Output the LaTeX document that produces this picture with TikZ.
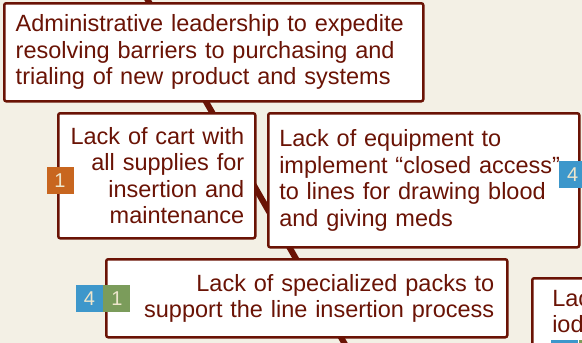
\documentclass[tikz,border=0pt]{standalone}
\usepackage{xcolor}
\usepackage{fontspec}
\setmainfont{Liberation Sans}
\usepackage{tikz}
\usetikzlibrary{positioning}
\definecolor{bone}{HTML}{6A1305}
\definecolor{paper}{HTML}{F3F0E5}
\definecolor{tagorange}{HTML}{C8661F}
\definecolor{tagblue}{HTML}{3D97CB}
\definecolor{taggreen}{HTML}{7B9C5B}
\definecolor{tagtext}{HTML}{EEE6CC}
\tikzstyle{cause} = [
    rectangle,
    draw=bone,
    line width=2.5pt,
    fill=white,
    text=bone,
    rounded corners=2pt,
    inner xsep=11pt,
    inner ysep=0pt,
    font=\fontsize{23.5}{26.5}\selectfont,
    anchor=north west
]
\tikzstyle{tag} = [
    rectangle,
    minimum size=27pt,
    inner sep=0pt,
    text=tagtext,
    font=\fontsize{20}{20}\selectfont
]
\tikzstyle{spine} = [bone, line width=6pt]

\begin{document}
\begin{tikzpicture}[x=1pt, y=-1pt, node distance=0pt]
    % Rahmen
    \clip (0,0) rectangle (582,343);
    \fill[paper] (0,0) rectangle (582,343);
    % Gräte
    \coordinate (spinetop) at (142,-10);
    \coordinate (spinebot) at (350,353);
    \draw [spine] (spinetop) -- (spinebot);
    % Kästen definieren
    \node (admin) [cause, minimum width=419pt, minimum height=98pt, text width=396pt, align=left] at (3,2)
        {Administrative leadership to expedite\\resolving barriers to purchasing and\\trialing of new product and systems};
    \node (cart) [cause, minimum width=197pt, minimum height=125pt, text width=175pt, align=right] at (57,112)
        {Lack of cart with\\all supplies for\\insertion and\\maintenance};
    \node (equip) [cause, minimum width=311pt, minimum height=134pt, text width=289pt, align=left] at (267,112)
        {Lack of equipment to\\implement “closed access”\\to lines for drawing blood\\and giving meds};
    \node (packs) [cause, minimum width=401pt, minimum height=78pt, inner xsep=13pt, text width=375pt, align=right] at (105,258)
        {Lack of specialized packs to\\support the line insertion process};
    \node (iodine) [cause, minimum width=120pt, inner xsep=20pt, inner ysep=12pt, text width=80pt, align=left] at (531,277)
        {Lac\\iod\\[20pt]};
    % Kennzeichen
    \node (cart1) [tag, fill=tagorange] at (60,180.5) {1};
    \node (equip4) [tag, fill=tagblue, anchor=west] at (559,174.5) {4};
    \node (packs4) [tag, fill=tagblue] at (89.5,298.5) {4};
    \node (packs1) [tag, fill=taggreen, right=of packs4] {1};
    \node (iodine4) [tag, fill=tagblue, anchor=north west] at (551,340) {};
    \node (iodine1) [tag, fill=taggreen, right=of iodine4] {};
\end{tikzpicture}
\end{document}
